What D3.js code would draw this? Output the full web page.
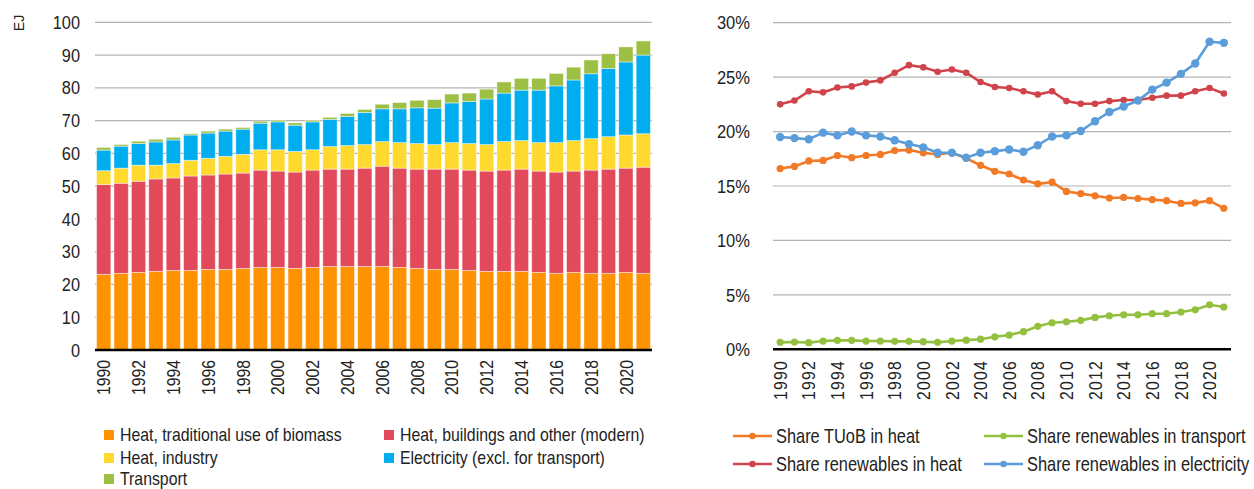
<!DOCTYPE html>
<html>
<head>
<meta charset="utf-8">
<script src="https://cdn.jsdelivr.net/npm/d3@7"></script>
<style>
  body { margin: 0; background: #fff; }
  text { font-family: "Liberation Sans", Arial, sans-serif; fill: #222; }
</style>
</head>
<body>
<div class="canvas"></div>
<script>
const years = d3.range(1990, 2022);

// left chart, EJ per segment
const tradBiomass = [23.1, 23.4, 23.7, 24.0, 24.3, 24.3, 24.6, 24.6, 24.9, 25.2, 25.2, 24.9, 25.2, 25.5, 25.5, 25.5,
  25.5, 25.2, 24.9, 24.6, 24.6, 24.3, 24.0, 24.0, 24.0, 23.7, 23.4, 23.7, 23.4, 23.4, 23.7, 23.4];
const heatBuildings = [27.4, 27.5, 27.8, 28.2, 28.2, 28.8, 28.8, 29.1, 29.1, 29.7, 29.4, 29.4, 29.7, 29.7, 29.7, 30.0,
  30.6, 30.3, 30.3, 30.6, 30.6, 30.6, 30.6, 30.9, 31.2, 30.9, 30.9, 30.9, 31.5, 31.8, 31.8, 32.4];
const heatIndustry = [4.2, 4.6, 4.9, 4.2, 4.4, 4.8, 5.1, 5.4, 5.7, 6.2, 6.5, 6.3, 6.2, 6.9, 7.2, 7.2,
  7.5, 7.8, 7.8, 7.5, 8.1, 8.1, 8.1, 8.7, 8.7, 8.7, 9.0, 9.3, 9.6, 9.9, 10.1, 10.2];
const electricity = [6.3, 6.7, 6.6, 7.1, 7.2, 7.7, 7.7, 7.7, 7.7, 8.1, 8.5, 8.0, 8.5, 8.3, 8.9, 9.8,
  10.0, 10.3, 10.9, 11.1, 12.1, 12.8, 13.9, 14.8, 15.4, 16.0, 17.3, 18.5, 19.8, 20.8, 22.3, 24.0];
const transport = [0.8, 0.5, 0.7, 0.8, 0.8, 0.4, 0.6, 0.6, 0.5, 0.6, 0.5, 0.7, 0.5, 0.6, 0.9, 0.9,
  1.4, 1.9, 2.3, 2.6, 2.7, 2.6, 3.0, 3.4, 3.6, 3.6, 3.8, 3.9, 4.2, 4.5, 4.6, 4.3];
const leftTicks = [0, 10, 20, 30, 40, 50, 60, 70, 80, 90, 100];

// right chart, shares in %
const shareTUoB = [16.6, 16.8, 17.3, 17.35, 17.8, 17.6, 17.8, 17.9, 18.25, 18.3, 18.05, 17.9, 18.05, 17.55, 16.9, 16.35,
  16.1, 15.55, 15.2, 15.35, 14.5, 14.3, 14.1, 13.9, 13.95, 13.85, 13.75, 13.65, 13.4, 13.45, 13.65, 12.95];
const shareHeat = [22.5, 22.85, 23.7, 23.6, 24.05, 24.15, 24.5, 24.7, 25.4, 26.1, 25.9, 25.5, 25.7, 25.4, 24.55, 24.1,
  24.0, 23.7, 23.4, 23.7, 22.8, 22.55, 22.55, 22.8, 22.9, 22.9, 23.1, 23.3, 23.3, 23.7, 24.0, 23.5];
const shareTransport = [0.64, 0.67, 0.61, 0.76, 0.82, 0.82, 0.76, 0.76, 0.73, 0.73, 0.70, 0.64, 0.76, 0.84, 0.93, 1.15,
  1.31, 1.62, 2.11, 2.44, 2.53, 2.66, 2.93, 3.08, 3.17, 3.17, 3.27, 3.27, 3.42, 3.63, 4.09, 3.88];
const shareElec = [19.5, 19.4, 19.3, 19.9, 19.65, 20.0, 19.65, 19.55, 19.2, 18.85, 18.55, 18.05, 18.05, 17.6, 18.05, 18.2,
  18.35, 18.15, 18.75, 19.55, 19.65, 20.05, 20.95, 21.8, 22.3, 22.85, 23.85, 24.5, 25.3, 26.25, 28.25, 28.15];
const rightTicks = [0, 5, 10, 15, 20, 25, 30];

const stackKeys = ["Heat, traditional use of biomass", "Heat, buildings and other (modern)", "Heat, industry",
  "Electricity (excl. for transport)", "Transport"];
const stackColors = ["#FF9200", "#E2495A", "#FFD92E", "#00ADEE", "#9DBF43"];

const svg = d3.select('.canvas')
  .append('svg')
  .attr('width', 1254)
  .attr('height', 489);

// no narrow font installed, so squeeze text horizontally
const sq = (x, y, s) => `translate(${x},${y}) scale(${s},1)`;
const sqRot = (x, y, s) => `translate(${x},${y}) rotate(-90) scale(${s},1)`;

// ---------- left: stacked bars ----------
const x1 = d3.scaleBand()
  .domain(years)
  .range([95, 652])
  .paddingInner(0.18)
  .paddingOuter(0.09);

const y1 = d3.scaleLinear()
  .domain([0, 100])
  .range([350, 22.3]);

const left = svg.append('g');

left.selectAll('.grid')
  .data(leftTicks.slice(1))
  .join('line')
  .attr('x1', 95).attr('x2', 652)
  .attr('y1', d => y1(d)).attr('y2', d => y1(d))
  .attr('stroke', '#b4b4b4')
  .attr('stroke-width', 1.2);

left.selectAll('.ytick')
  .data(leftTicks)
  .join('text')
  .attr('transform', d => sq(80, y1(d), 0.86))
  .attr('dy', '0.35em')
  .attr('text-anchor', 'end')
  .style('font-size', '19px')
  .text(d => d);

left.append('text')
  .attr('transform', 'translate(24,23) rotate(-90)')
  .attr('text-anchor', 'middle')
  .style('font-size', '14px')
  .text('EJ');

const rows = years.map((yr, i) => ({
  year: yr,
  [stackKeys[0]]: tradBiomass[i],
  [stackKeys[1]]: heatBuildings[i],
  [stackKeys[2]]: heatIndustry[i],
  [stackKeys[3]]: electricity[i],
  [stackKeys[4]]: transport[i]
}));

const series = d3.stack().keys(stackKeys)(rows);

left.selectAll('.layer')
  .data(series)
  .join('g')
  .attr('fill', (d, i) => stackColors[i])
  .selectAll('rect')
  .data(d => d)
  .join('rect')
  .attr('x', d => x1(d.data.year))
  .attr('width', x1.bandwidth())
  .attr('y', d => y1(d[1]))
  .attr('height', d => y1(d[0]) - y1(d[1]))
  .attr('stroke', '#fff')
  .attr('stroke-opacity', 0.55)
  .attr('stroke-width', 0.8);

left.append('line')
  .attr('x1', 95).attr('x2', 652)
  .attr('y1', y1(0)).attr('y2', y1(0))
  .attr('stroke', '#000')
  .attr('stroke-width', 2.5);

left.selectAll('.xtick')
  .data(years.filter(d => d % 2 === 0))
  .join('text')
  .attr('transform', d => sqRot(x1(d) + x1.bandwidth() / 2, 360, 0.83))
  .attr('dy', '0.35em')
  .attr('text-anchor', 'end')
  .style('font-size', '19px')
  .text(d => d);

// legend left
const legLeft = [
  { i: 0, x: 104, y: 435 }, { i: 1, x: 384, y: 435 },
  { i: 2, x: 104, y: 458 }, { i: 3, x: 384, y: 458 },
  { i: 4, x: 104, y: 479 }
];
const ll = left.selectAll('.leg')
  .data(legLeft)
  .join('g')
  .attr('transform', d => `translate(${d.x},${d.y})`);
ll.append('rect')
  .attr('x', 0).attr('y', -5)
  .attr('width', 10).attr('height', 10)
  .attr('fill', d => stackColors[d.i]);
ll.append('text')
  .attr('transform', sq(16, 0, 0.88))
  .attr('dy', '0.35em')
  .style('font-size', '18px')
  .text(d => stackKeys[d.i]);

// ---------- right: shares ----------
const x2 = d3.scalePoint()
  .domain(years)
  .range([773, 1231])
  .padding(0.5);

const y2 = d3.scaleLinear()
  .domain([0, 30])
  .range([349.3, 22.7]);

const right = svg.append('g');

right.selectAll('.grid')
  .data(rightTicks.slice(1))
  .join('line')
  .attr('x1', 773).attr('x2', 1231)
  .attr('y1', d => y2(d)).attr('y2', d => y2(d))
  .attr('stroke', '#b4b4b4')
  .attr('stroke-width', 1.2);

right.selectAll('.ytick')
  .data(rightTicks)
  .join('text')
  .attr('transform', d => sq(750, y2(d), 0.87))
  .attr('dy', '0.35em')
  .attr('text-anchor', 'end')
  .style('font-size', '19px')
  .text(d => d + '%');

right.append('line')
  .attr('x1', 773).attr('x2', 1231)
  .attr('y1', y2(0)).attr('y2', y2(0))
  .attr('stroke', '#000')
  .attr('stroke-width', 2.5);

right.selectAll('.xtick')
  .data(years.filter(d => d % 2 === 0))
  .join('text')
  .attr('transform', d => sqRot(x2(d), 360, 0.83))
  .attr('dy', '0.35em')
  .attr('text-anchor', 'end')
  .style('font-size', '19px')
  .style('letter-spacing', '1.5px')
  .text(d => d);

const lines = [
  { name: 'Share TUoB in heat', values: shareTUoB, color: '#F27A26', r: 3.6 },
  { name: 'Share renewables in transport', values: shareTransport, color: '#93C03E', r: 3.6 },
  { name: 'Share renewables in heat', values: shareHeat, color: '#D1434B', r: 3.3 },
  { name: 'Share renewables in electricity', values: shareElec, color: '#5B9DDA', r: 4.2 }
];

const line = d3.line()
  .x((d, i) => x2(years[i]))
  .y(d => y2(d));

lines.forEach(s => {
  right.append('path')
    .attr('d', line(s.values))
    .attr('fill', 'none')
    .attr('stroke', s.color)
    .attr('stroke-width', 2.6);
  right.append('g')
    .selectAll('circle')
    .data(s.values)
    .join('circle')
    .attr('cx', (d, i) => x2(years[i]))
    .attr('cy', d => y2(d))
    .attr('r', s.r)
    .attr('fill', s.color);
});

// legend right
const legRight = [
  { i: 0, x: 733, y: 436 }, { i: 1, x: 984, y: 436 },
  { i: 2, x: 733, y: 464 }, { i: 3, x: 984, y: 464 }
];
const lr = right.selectAll('.leg')
  .data(legRight)
  .join('g')
  .attr('transform', d => `translate(${d.x},${d.y})`);
lr.append('line')
  .attr('x1', 0).attr('x2', 39)
  .attr('stroke', d => lines[d.i].color)
  .attr('stroke-width', 2.5);
lr.append('circle')
  .attr('cx', 19.5).attr('r', 3.2)
  .attr('fill', d => lines[d.i].color);
lr.append('text')
  .attr('transform', sq(43, 0, 0.8))
  .attr('dy', '0.35em')
  .style('font-size', '20.5px')
  .text(d => lines[d.i].name);
</script>
</body>
</html>
